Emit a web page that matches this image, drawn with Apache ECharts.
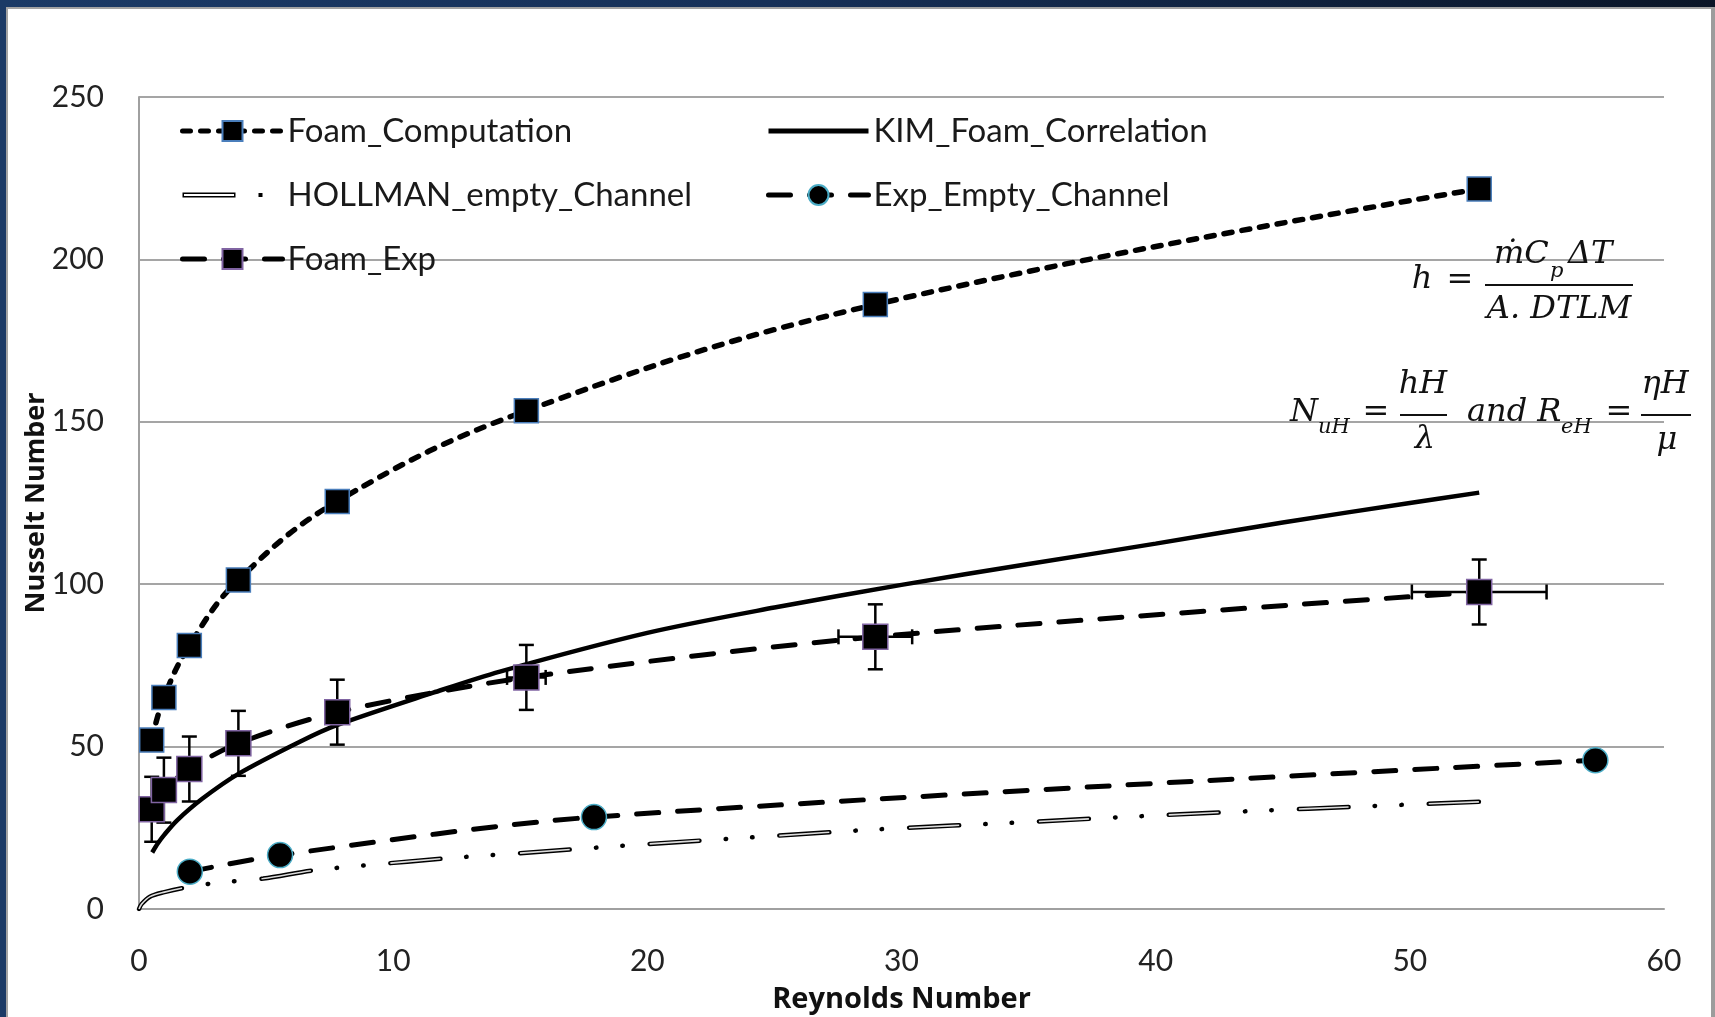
<!DOCTYPE html>
<html><head><meta charset="utf-8">
<script src="https://cdn.jsdelivr.net/npm/echarts@6/dist/echarts.min.js"></script>
<style>
html,body{margin:0;padding:0;width:1715px;height:1017px;overflow:hidden;background:#fff}
#bg{position:absolute;left:0;top:0;width:1715px;height:1017px;background:linear-gradient(90deg,#1b3a66 0%,#163058 45%,#0a1527 100%)}
#paper{position:absolute;left:6px;top:7px;width:1703px;height:1008px;background:#fff;border-left:2px solid #a3a3a3;border-top:2px solid #a3a3a3;border-right:4px solid #9c9c9c}
#chart{position:absolute;left:0;top:0;width:1715px;height:1017px}
</style></head>
<body>
<div id="bg"></div><div id="paper"></div><div id="chart"></div>
<script>
// ---- data ----
var foamX        = [0.5, 0.98, 1.98, 3.91, 7.8, 15.24, 28.97, 52.73];
var foamCompY    = [52.0, 65.1, 81.1, 101.3, 125.5, 153.4, 186.1, 221.7];
var foamExpY     = [30.7, 36.6, 43.1, 51.0, 60.6, 71.3, 83.8, 97.6];
var foamExpErrY  = [10, 10, 10, 10, 10, 10, 10, 10];
var foamExpErrX  = [0.03, 0.05, 0.1, 0.2, 0.39, 0.76, 1.45, 2.65];
var kimX = [0.52, 0.75, 1.0, 1.5, 2.5, 3.91, 6.33, 7.78, 11.58, 14.2, 20, 25, 30, 35, 40, 45, 50, 52.73];
var kimY = [17.4, 20.3, 22.9, 27.3, 34.0, 41.6, 51.5, 56.6, 66.6, 73.1, 85.0, 92.8, 99.8, 106.2, 112.5, 119.0, 125.0, 128.2];
var hollX = [0, 0.1, 0.43, 1.0, 1.68, 3, 4.89, 6.86, 9.0, 12.1, 15, 20, 25, 29, 35, 40, 46, 52.73];
var hollY = [0, 1.5, 3.8, 5.2, 6.4, 8.0, 9.4, 11.9, 13.5, 15.6, 17.2, 20.0, 22.5, 24.5, 26.8, 28.8, 30.9, 33.0];
var expEmptyX = [2.0, 5.55, 17.9, 57.3];
var expEmptyY = [11.5, 16.6, 28.3, 45.8];
var names = ['Foam_Computation', 'KIM_Foam_Correlation', 'HOLLMAN_empty_Channel', 'Exp_Empty_Channel', 'Foam_Exp'];
var xTitle = 'Reynolds Number', yTitle = 'Nusselt Number';

function pairs(xs, ys) { return xs.map(function (x, i) { return [x, ys[i]]; }); }

var FONT = 'Lato';
var kimIcon = 'path://M0,0L0,0M100,25L100,25M0,10L100,10L100,15L0,15Z';
var hollIcon = 'path://M0,0L0,0M100,25L100,25M0,10L53,10L53,15L0,15ZM1.5,11.5L1.5,13.5L51.5,13.5L51.5,11.5ZM76,10.5L80,10.5L80,14.5L76,14.5Z';

var eqFont = 'italic 32px "DejaVu Serif"';
var subFont = 'italic 21px "DejaVu Serif"';
function T(txt, x, y, font, align) {
  return { type: 'text', x: x, y: y, z: 100, silent: true,
    style: { text: txt, font: font, fill: '#111', align: align || 'center', verticalAlign: 'middle',
             textAlign: align || 'center', textVerticalAlign: 'middle' } };
}
function Bar(x1, x2, y) {
  return { type: 'line', z: 100, silent: true, shape: { x1: x1, y1: y, x2: x2, y2: y }, style: { stroke: '#111', lineWidth: 2.2 } };
}

var option = {
  animation: false,
  textStyle: { fontFamily: FONT },
  grid: { left: 139, right: 51, top: 97, bottom: 108, containLabel: false, outerBoundsMode: 'none' },
  legend: [
    { left: 180, top: 114, orient: 'vertical', padding: 0, itemWidth: 100, itemHeight: 25, itemGap: 30,
      selectedMode: false, textStyle: { fontFamily: FONT, fontSize: 33, lineHeight: 34, color: '#1a1a1a' },
      lineStyle: { width: 5 },
      data: [names[0], { name: names[2], icon: hollIcon, itemStyle: { borderWidth: 0, color: '#000' } }, names[4]] },
    { left: 766, top: 114, orient: 'vertical', padding: 0, itemWidth: 100, itemHeight: 25, itemGap: 30,
      selectedMode: false, textStyle: { fontFamily: FONT, fontSize: 33, lineHeight: 34, color: '#1a1a1a' },
      lineStyle: { width: 5 },
      data: [{ name: names[1], icon: kimIcon, itemStyle: { borderWidth: 0, color: '#000' } }, names[3]] }
  ],
  xAxis: {
    type: 'value', min: 0, max: 60, interval: 10,
    axisLine: { show: true, lineStyle: { color: '#a0a0a0', width: 2 } },
    axisTick: { show: false }, splitLine: { show: false },
    axisLabel: { margin: 37, fontFamily: FONT, fontSize: 30, color: '#222' },
    name: xTitle, nameLocation: 'middle', nameGap: 76, nameMoveOverlap: false,
    nameTextStyle: { fontFamily: 'Open Sans', fontWeight: 'bold', fontSize: 29, color: '#111' }
  },
  yAxis: {
    type: 'value', min: 0, max: 250, interval: 50,
    axisLine: { show: true, lineStyle: { color: '#a0a0a0', width: 2 } },
    axisTick: { show: false },
    splitLine: { show: true, lineStyle: { color: '#a5a5a5', width: 2 } },
    axisLabel: { margin: 35, fontFamily: FONT, fontSize: 30, color: '#222' },
    name: yTitle, nameLocation: 'middle', nameGap: 89, nameRotate: 90, nameMoveOverlap: false,
    nameTextStyle: { fontFamily: 'Open Sans', fontWeight: 'bold', fontSize: 27, color: '#111' }
  },
  series: [
    { type: 'custom', name: 'errors', silent: true,
      encode: { x: 0, y: 1 },
      data: foamX.map(function (x, i) { return [x, foamExpY[i], foamExpErrX[i], foamExpErrY[i]]; }),
      renderItem: function (params, api) {
        var x = api.value(0), y = api.value(1), ex = api.value(2), ey = api.value(3);
        var t = api.coord([x, y + ey]), b = api.coord([x, y - ey]);
        var l = api.coord([x - ex, y]), r = api.coord([x + ex, y]);
        var c = 7.5, st = { stroke: '#000', lineWidth: 2.5 };
        function ln(x1, y1, x2, y2) { return { type: 'line', shape: { x1: x1, y1: y1, x2: x2, y2: y2 }, style: st }; }
        return { type: 'group', children: [
          ln(t[0], t[1], b[0], b[1]), ln(t[0] - c, t[1], t[0] + c, t[1]), ln(b[0] - c, b[1], b[0] + c, b[1]),
          ln(l[0], l[1], r[0], r[1]), ln(l[0], l[1] - c, l[0], l[1] + c), ln(r[0], r[1] - c, r[0], r[1] + c)
        ] };
      }
    },
    { type: 'line', name: names[2], data: pairs(hollX, hollY), symbol: 'none', smooth: 0.3,
      itemStyle: { color: '#000' },
      lineStyle: { color: '#000', width: 4.5, type: [50, 26, 0.5, 26, 0.5, 27], cap: 'round' }, emphasis: { disabled: true } },
    { type: 'line', name: 'HOLLMAN_core', data: pairs(hollX, hollY), symbol: 'none', smooth: 0.3, silent: true,
      lineStyle: { color: '#dcdcdc', width: 1.6, type: [50, 80], cap: 'butt' }, emphasis: { disabled: true } },
    { type: 'line', name: names[1], data: pairs(kimX, kimY), symbol: 'none', smooth: 0.3,
      itemStyle: { color: '#000' },
      lineStyle: { color: '#000', width: 4.5 }, emphasis: { disabled: true } },
    { type: 'line', name: names[3], data: pairs(expEmptyX, expEmptyY), symbol: 'circle', symbolSize: 25, smooth: 0.3,
      itemStyle: { color: '#000', borderColor: '#4bacc6', borderWidth: 1.5 },
      lineStyle: { color: '#000', width: 5, type: [22, 19], cap: 'round' }, emphasis: { disabled: true } },
    { type: 'line', name: names[4], data: pairs(foamX, foamExpY), symbol: 'rect', symbolSize: 25, smooth: 0.3,
      itemStyle: { color: '#000', borderColor: '#8064a2', borderWidth: 1.5 },
      lineStyle: { color: '#000', width: 5, type: [22, 19], cap: 'round' }, emphasis: { disabled: true } },
    { type: 'line', name: names[0], data: pairs(foamX, foamCompY), symbol: 'rect', symbolSize: 24, smooth: 0.4,
      itemStyle: { color: '#000', borderColor: '#4a7ebb', borderWidth: 1.5 },
      lineStyle: { color: '#000', width: 5.5, type: [8, 10], cap: 'round' }, emphasis: { disabled: true } }
  ],
  graphic: [
    T('h', 1422, 280, eqFont), T('=', 1460, 281, eqFont),
    T('\u1E41C', 1494, 255, eqFont, 'left'), T('p', 1550, 272, subFont, 'left'), T('\u0394T', 1568, 255, eqFont, 'left'),
    Bar(1485, 1633, 285),
    T('A. DTLM', 1559, 310, eqFont),
    T('N', 1290, 413, eqFont, 'left'), T('uH', 1318, 428, subFont, 'left'),
    T('=', 1376, 413, eqFont),
    T('hH', 1423, 385, eqFont), Bar(1400, 1447, 415), T('\u03BB', 1425, 440, eqFont),
    T('and R', 1467, 413, eqFont, 'left'), T('eH', 1561, 428, subFont, 'left'),
    T('=', 1619, 413, eqFont),
    T('\u03B7H', 1665, 385, eqFont), Bar(1641, 1691, 415), T('\u03BC', 1667, 441, eqFont)
  ]
};
var chart = echarts.init(document.getElementById('chart'), null, { renderer: 'canvas' });
chart.setOption(option);
</script>
</body></html>
